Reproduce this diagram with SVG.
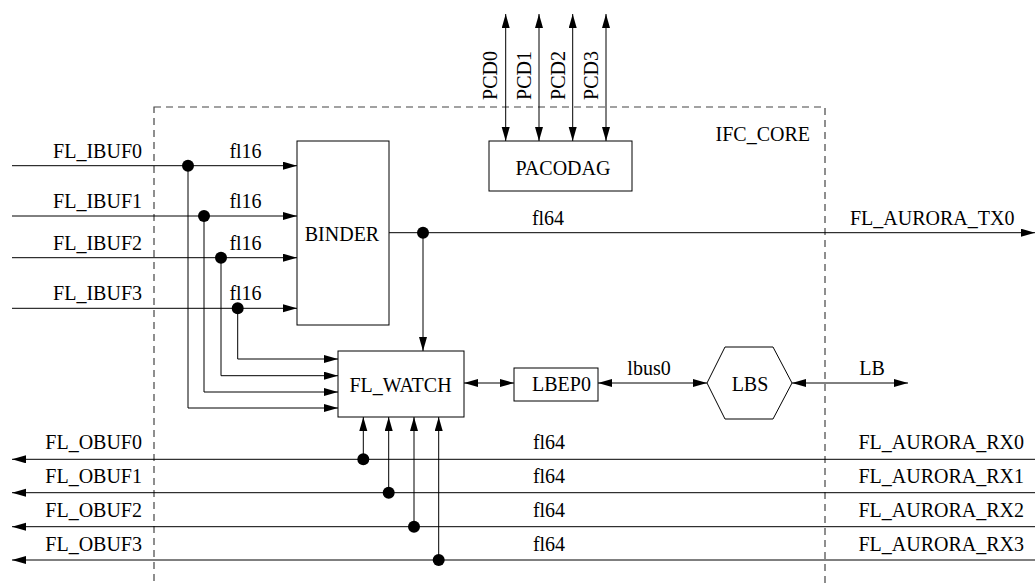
<svg xmlns="http://www.w3.org/2000/svg" width="1035" height="583" viewBox="0 0 1035 583">
<style>
text{font-family:'Liberation Serif','Times New Roman',serif;font-size:20px;fill:#000}
.box{fill:#fff;stroke:#000;stroke-width:1}
.w{fill:none;stroke:#000;stroke-width:1}
.a{marker-end:url(#ah)}
.b{marker-start:url(#ah);marker-end:url(#ah)}
.dot{fill:#000}
.core{fill:none;stroke:#444;stroke-width:1.2;stroke-dasharray:7,5}
.m{text-anchor:middle}
.e{text-anchor:end}
</style>
<defs>
<marker id="ah" markerUnits="userSpaceOnUse" markerWidth="15" markerHeight="9" refX="14" refY="4" orient="auto-start-reverse" viewBox="0 0 15 9">
<path d="M0,0 L14,4 L0,8 z" fill="#000"/>
</marker>
</defs>
<rect fill="#fff" x="0" y="0" width="1035" height="583"/>
<g id="ifc_core">
<rect class="core" x="154" y="107" width="671" height="520"/>
<text class="e" x="810" y="140.5">IFC_CORE</text>
</g>
<g id="connectors">
<line class="w b" x1="505.7" y1="14" x2="505.7" y2="141"/>
<line class="w b" x1="539" y1="14" x2="539" y2="141"/>
<line class="w b" x1="572.7" y1="14" x2="572.7" y2="141"/>
<line class="w b" x1="606" y1="14" x2="606" y2="141"/>
<line class="w a" x1="12" y1="165.7" x2="297" y2="165.7"/>
<line class="w a" x1="12" y1="216" x2="297" y2="216"/>
<line class="w a" x1="12" y1="257.7" x2="297" y2="257.7"/>
<line class="w a" x1="12" y1="308.3" x2="297" y2="308.3"/>
<path class="w a" d="M188,165.7 V408 H338"/>
<path class="w a" d="M204,216 V392 H338"/>
<path class="w a" d="M221,257.7 V375.7 H338"/>
<path class="w a" d="M237.7,308.3 V359 H338"/>
<line class="w a" x1="389" y1="232.7" x2="1035" y2="232.7"/>
<line class="w a" x1="423" y1="232.7" x2="423" y2="351"/>
<line class="w b" x1="464" y1="383" x2="514" y2="383"/>
<line class="w b" x1="598" y1="383" x2="707" y2="383"/>
<line class="w b" x1="792" y1="383" x2="908" y2="383"/>
<line class="w a" x1="1035" y1="459.3" x2="12" y2="459.3"/>
<line class="w a" x1="1035" y1="492.7" x2="12" y2="492.7"/>
<line class="w a" x1="1035" y1="526.7" x2="12" y2="526.7"/>
<line class="w a" x1="1035" y1="560" x2="12" y2="560"/>
<line class="w a" x1="363.3" y1="459.3" x2="363.3" y2="417"/>
<line class="w a" x1="388.7" y1="492.7" x2="388.7" y2="417"/>
<line class="w a" x1="414" y1="526.7" x2="414" y2="417"/>
<line class="w a" x1="438.7" y1="560" x2="438.7" y2="417"/>
<circle class="dot" cx="188" cy="165.7" r="6"/>
<circle class="dot" cx="204" cy="216" r="6"/>
<circle class="dot" cx="221" cy="257.7" r="6"/>
<circle class="dot" cx="237.7" cy="308.3" r="6"/>
<circle class="dot" cx="423" cy="232.7" r="6"/>
<circle class="dot" cx="363.3" cy="459.3" r="6"/>
<circle class="dot" cx="388.7" cy="492.7" r="6"/>
<circle class="dot" cx="414" cy="526.7" r="6"/>
<circle class="dot" cx="438.7" cy="560" r="6"/>
<text transform="translate(497,75.5) rotate(-90)" class="m">PCD0</text>
<text transform="translate(531,75.5) rotate(-90)" class="m">PCD1</text>
<text transform="translate(565,75.5) rotate(-90)" class="m">PCD2</text>
<text transform="translate(598,75.5) rotate(-90)" class="m">PCD3</text>
<text class="e" x="142" y="158">FL_IBUF0</text>
<text class="e" x="142" y="208">FL_IBUF1</text>
<text class="e" x="142" y="250">FL_IBUF2</text>
<text class="e" x="142" y="300">FL_IBUF3</text>
<text class="m" x="245.5" y="158">fl16</text>
<text class="m" x="245.5" y="208">fl16</text>
<text class="m" x="245.5" y="250">fl16</text>
<text class="m" x="245.5" y="300">fl16</text>
<text class="m" x="548" y="225">fl64</text>
<text x="850" y="225">FL_AURORA_TX0</text>
<text class="m" x="649" y="375">lbus0</text>
<text class="m" x="872" y="375">LB</text>
<text class="e" x="142" y="449.3">FL_OBUF0</text>
<text class="e" x="142" y="483.3">FL_OBUF1</text>
<text class="e" x="142" y="517">FL_OBUF2</text>
<text class="e" x="142" y="551">FL_OBUF3</text>
<text class="m" x="549" y="449.3">fl64</text>
<text class="m" x="549" y="483.3">fl64</text>
<text class="m" x="549" y="517">fl64</text>
<text class="m" x="549" y="551">fl64</text>
<text class="e" x="1024" y="449.3">FL_AURORA_RX0</text>
<text class="e" x="1024" y="483.3">FL_AURORA_RX1</text>
<text class="e" x="1024" y="517">FL_AURORA_RX2</text>
<text class="e" x="1024" y="551">FL_AURORA_RX3</text>
</g>
<g id="pacodag">
<rect class="box" x="489" y="141" width="143" height="50"/>
<text class="m" x="563" y="175">PACODAG</text>
</g>
<g id="binder">
<rect class="box" x="297" y="141" width="92" height="184"/>
<text class="m" x="342" y="240.5">BINDER</text>
</g>
<g id="fl_watch">
<rect class="box" x="338" y="351" width="126" height="66"/>
<text class="m" x="400.5" y="391.5">FL_WATCH</text>
</g>
<g id="lbep0">
<rect class="box" x="514" y="368" width="84" height="33"/>
<text class="m" x="561.5" y="391">LBEP0</text>
</g>
<g id="lbs">
<polygon class="box" points="707,383 725,347 773,347 792,383 773,419 725,419"/>
<text class="m" x="750" y="391">LBS</text>
</g>
</svg>
